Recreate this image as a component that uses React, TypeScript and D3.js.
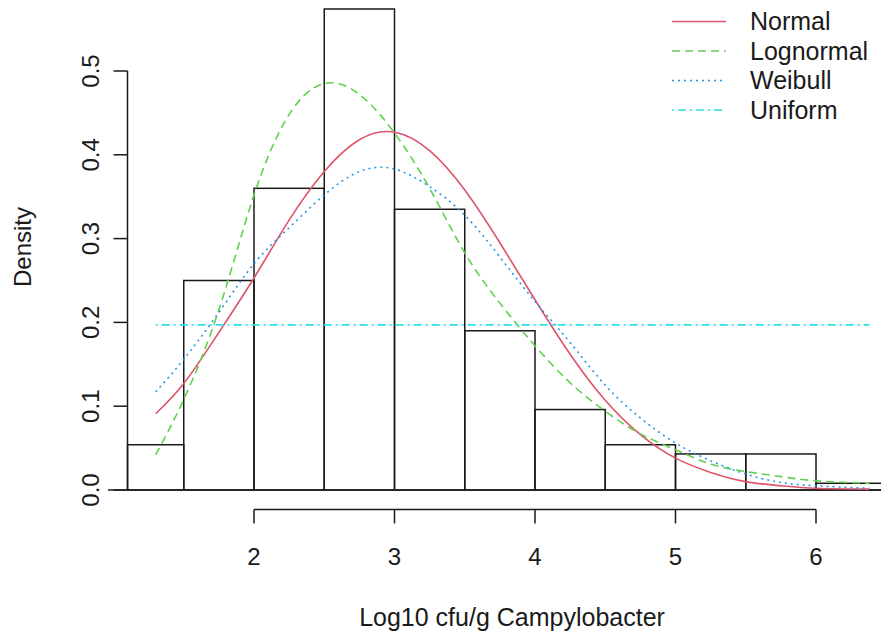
import React from "react";
import * as d3 from "d3";

// Histogram bins (bin edges) and densities
const binEdges = [1.1, 1.5, 2.0, 2.5, 3.0, 3.5, 4.0, 4.5, 5.0, 5.5, 6.0, 6.5];
const binDensity = [0.054, 0.25, 0.36, 0.574, 0.335, 0.19, 0.096, 0.054, 0.043, 0.043, 0.008];

// Fitted density curves
const curveX = [1.3, 1.5, 1.75, 2.0, 2.25, 2.5, 2.75, 3.0, 3.25, 3.5, 3.75, 4.0, 4.25, 4.5, 4.75, 5.0, 5.25, 5.5, 5.75, 6.0, 6.38];
const normalY = [0.091, 0.127, 0.188, 0.253, 0.322, 0.38, 0.418, 0.427, 0.405, 0.358, 0.295, 0.227, 0.162, 0.107, 0.066, 0.038, 0.021, 0.01, 0.005, 0.002, 0.001];
const lognormalY = [0.042, 0.108, 0.215, 0.352, 0.448, 0.485, 0.472, 0.426, 0.36, 0.283, 0.223, 0.172, 0.128, 0.094, 0.067, 0.048, 0.031, 0.022, 0.016, 0.011, 0.008];
const weibullY = [0.117, 0.156, 0.212, 0.27, 0.313, 0.352, 0.38, 0.383, 0.362, 0.328, 0.278, 0.225, 0.176, 0.125, 0.086, 0.056, 0.035, 0.019, 0.009, 0.005, 0.002];
const uniformX = [1.3, 6.38];
const uniformY = [0.197, 0.197];

const xTicks = [2, 3, 4, 5, 6];
const yTicks = [0, 0.1, 0.2, 0.3, 0.4, 0.5];

const seriesNames = ["Normal", "Lognormal", "Weibull", "Uniform"];
const seriesColors = ["#DF536B", "#61D04F", "#2297E6", "#28E2E5"];
const seriesDash = ["none", "8,5", "2,4", "2,4,8,4"];

const FONT = "'Liberation Sans', Arial, sans-serif";

export default function App() {
  const W = 881;
  const H = 635;
  const x = d3.scaleLinear().domain([2, 6]).range([254, 816]);
  const y = d3.scaleLinear().domain([0, 0.5]).range([490, 71]);

  const line = d3
    .line<[number, number]>()
    .x((d) => x(d[0]))
    .y((d) => y(d[1]))
    .curve(d3.curveNatural);

  const curves = [
    curveX.map((v, i) => [v, normalY[i]] as [number, number]),
    curveX.map((v, i) => [v, lognormalY[i]] as [number, number]),
    curveX.map((v, i) => [v, weibullY[i]] as [number, number]),
    uniformX.map((v, i) => [v, uniformY[i]] as [number, number]),
  ];

  const ink = "#1a1a1a";
  const xAxisY = 509.5;
  const yAxisX = 127.5;

  return (
    <svg
      width={W}
      height={H}
      style={{ position: "absolute", left: 0, top: 0, background: "#fff" }}
      fontFamily={FONT}
    >
      <rect x={0} y={0} width={W} height={H} fill="#fff" />
      {/* baseline */}
      <line x1={108} x2={W} y1={y(0)} y2={y(0)} stroke={ink} strokeWidth={1.5} />
      {/* histogram bars */}
      {binDensity.map((d, i) => (
        <rect
          key={i}
          x={x(binEdges[i])}
          y={y(d)}
          width={x(binEdges[i + 1]) - x(binEdges[i])}
          height={y(0) - y(d)}
          fill="none"
          stroke={ink}
          strokeWidth={1.5}
        />
      ))}
      {/* curves */}
      {curves.map((pts, i) => (
        <path
          key={i}
          d={line(pts) || ""}
          fill="none"
          stroke={seriesColors[i]}
          strokeWidth={1.6}
          strokeDasharray={seriesDash[i]}
        />
      ))}
      {/* x axis */}
      <line x1={x(xTicks[0])} x2={x(xTicks[xTicks.length - 1])} y1={xAxisY} y2={xAxisY} stroke={ink} strokeWidth={1.5} />
      {xTicks.map((t) => (
        <g key={t}>
          <line x1={x(t)} x2={x(t)} y1={xAxisY} y2={xAxisY + 14} stroke={ink} strokeWidth={1.5} />
          <text x={x(t)} y={565} textAnchor="middle" fontSize={24} fill={ink}>
            {t}
          </text>
        </g>
      ))}
      {/* y axis */}
      <line x1={yAxisX} x2={yAxisX} y1={y(0)} y2={y(0.5)} stroke={ink} strokeWidth={1.5} />
      {yTicks.map((t) => (
        <g key={t}>
          <line x1={yAxisX - 14} x2={yAxisX} y1={y(t)} y2={y(t)} stroke={ink} strokeWidth={1.5} />
          <text
            transform={`translate(99,${y(t)}) rotate(-90)`}
            textAnchor="middle"
            fontSize={24}
            fill={ink}
          >
            {t.toFixed(1)}
          </text>
        </g>
      ))}
      {/* axis titles */}
      <text x={512} y={626} textAnchor="middle" fontSize={25} fill={ink}>
        Log10 cfu/g Campylobacter
      </text>
      <text transform="translate(31,247) rotate(-90)" textAnchor="middle" fontSize={24} fill={ink}>
        Density
      </text>
      {/* legend */}
      {seriesNames.map((n, i) => {
        const ly = 21.5 + i * 29.5;
        return (
          <g key={n}>
            <line
              x1={672}
              x2={726}
              y1={ly}
              y2={ly}
              stroke={seriesColors[i]}
              strokeWidth={1.6}
              strokeDasharray={seriesDash[i]}
            />
            <text x={750} y={ly + 8.5} fontSize={25} fill={ink}>
              {n}
            </text>
          </g>
        );
      })}
    </svg>
  );
}
